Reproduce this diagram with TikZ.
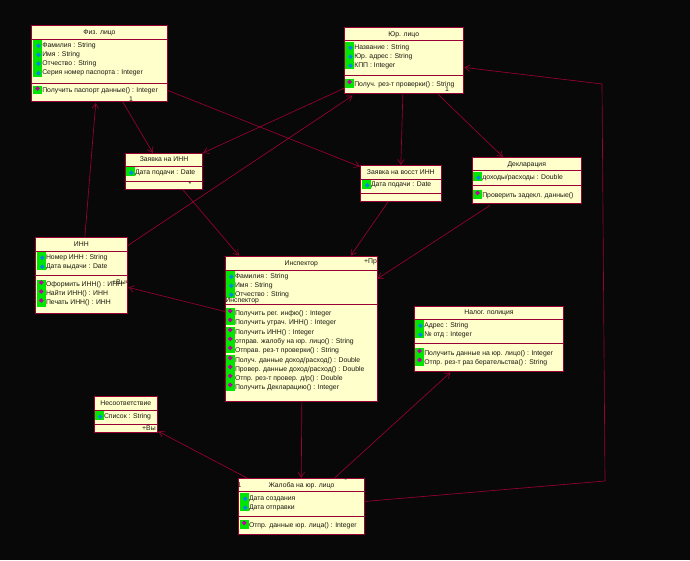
\documentclass[tikz,border=0pt]{standalone}
\usepackage{fontspec}
\setmainfont{Liberation Sans}
\usetikzlibrary{arrows.meta}
\definecolor{umlred}{HTML}{990033}
\definecolor{umlfill}{HTML}{FFFFCC}
\definecolor{umlgreen}{HTML}{00E600}
\definecolor{umlblue}{HTML}{0088E0}
\definecolor{umlmag}{HTML}{C000A0}
\definecolor{umltext}{HTML}{181810}
\newcounter{rowc}
\tikzset{
  classbox/.style={draw=umlred,fill=umlfill,line width=0.9pt,inner sep=0pt,rectangle},
  divider/.style={draw=umlred,line width=0.9pt},
  umltxt/.style={inner sep=0pt,text=umltext,font=\fontsize{6.85}{7}\selectfont},
  rowlabel/.style={umltxt,anchor=base west},
  titlelabel/.style={umltxt,anchor=base},
  assoc/.style={draw=umlred,line width=0.65pt,-{Straight Barb[length=5pt,width=6.5pt,line width=0.6pt]}},
  greenbar/.style={fill=umlgreen,draw=none},
}
% name, x1,y1,x2,y2, divider1, divider2, title
\newcommand{\classbox}[8]{%
  \node[classbox,minimum width={(#4-#2)*1pt},minimum height={(#5-#3)*1pt}] (#1) at ({(#2+#4)/2},{(#3+#5)/2}) {};
  \draw[divider] (#2,#6) -- (#4,#6);
  \draw[divider] (#2,#7) -- (#4,#7);
  \node[titlelabel] (#1-title) at ({(#2+#4)/2},{(#3+#6)/2+2.3}) {#8};
}
% green bar x, y1, y2
\newcommand{\gbar}[3]{\fill[greenbar] (#1,#2) rectangle ({#1+8.8},#3);}
% attribute row: icon x, y, text
\newcommand{\attr}[3]{%
  \fill[umlblue] ({#1+5.2},{#2-1.4}) -- ({#1+7.6},{#2+1}) -- ({#1+5.2},{#2+3.4}) -- ({#1+2.8},{#2+1}) -- cycle;
  \stepcounter{rowc}\node[rowlabel] (row\therowc) at ({#1+8.8},{#2+2.3}) {#3};
}
% operation row: icon x, y, text
\newcommand{\oper}[3]{%
  \fill[umlmag] ({#1+4.2},{#2-4.2}) -- ({#1+6.7},{#2-1.8}) -- ({#1+4.2},{#2+0.6}) -- ({#1+1.8},{#2-1.8}) -- cycle;
  \stepcounter{rowc}\node[rowlabel] (row\therowc) at ({#1+8.8},{#2+2.3}) {#3};
}
\begin{document}
\begin{tikzpicture}[x=1pt,y=-1pt]
\useasboundingbox (0,0) rectangle (690,560);
\fill[black!97] (0,0) rectangle (690,560);

% Физ. лицо
\classbox{fiz}{31.7}{25.3}{167.3}{101.5}{39.3}{83.3}{Физ. лицо}
\gbar{33.3}{40}{67.7}\gbar{33.3}{68.3}{77}\gbar{33.3}{86}{94.3}
\attr{33.3}{44.7}{Фамилия : String}
\attr{33.3}{53.7}{Имя : String}
\attr{33.3}{62.7}{Отчество : String}
\attr{33.3}{72.3}{Серия номер паспорта : Integer}
\oper{33.3}{90.3}{Получить паспорт данные() : Integer}

% Заявка на ИНН
\classbox{zinn}{125.3}{153.3}{202.7}{189.3}{166}{181.3}{Заявка на ИНН}
\gbar{126}{166.7}{176.3}
\attr{126}{171.7}{Дата подачи : Date}

% Юр. лицо
\classbox{yur}{344.3}{27.7}{463.3}{93.7}{40.3}{75.3}{Юр. лицо}
\gbar{345.3}{42}{69}\gbar{345.3}{79}{87.7}
\attr{345.3}{46.7}{Название : String}
\attr{345.3}{55.7}{Юр. адрес : String}
\attr{345.3}{64.7}{КПП : Integer}
\oper{345.3}{83.7}{Получ. рез-т проверки() : String}

% Заявка на восст ИНН
\classbox{zvos}{360.3}{165.3}{441.3}{201.7}{179.3}{193.3}{Заявка на  восст ИНН}
\gbar{362}{180}{189}
\attr{362}{184.3}{Дата подачи : Date}

% Декларация
\classbox{decl}{472.3}{157.3}{581.3}{203.7}{170.3}{185.7}{Декларация}
\gbar{473.3}{172}{181}\gbar{473.3}{190}{199}
\attr{473.3}{176.7}{доходы/расходы : Double}
\oper{473.3}{194.7}{Проверить задекл. данные()}

% ИНН
\classbox{inn}{35.3}{237.3}{127.3}{313.3}{251.7}{275.3}{ИНН}
\gbar{37}{252.3}{270}\gbar{37}{280}{306.7}
\attr{37}{256.7}{Номер ИНН : String}
\attr{37}{265.7}{Дата выдачи : Date}
\oper{37}{284.3}{Оформить ИНН() : ИНН}
\oper{37}{293.3}{Найти ИНН() : ИНН}
\oper{37}{302.3}{Печать ИНН() : ИНН}
\node[rowlabel] (innrole) at (112,284) {+Выч};

% Инспектор
\classbox{insp}{225.3}{256}{377.3}{401}{270}{304.3}{Инспектор}
\gbar{226}{270.7}{298}\gbar{226}{308}{325}\gbar{226}{327.3}{353.3}\gbar{226}{355}{390.7}
\attr{226}{275.7}{Фамилия : String}
\attr{226}{284.7}{Имя : String}
\attr{226}{293.7}{Отчество : String}
\oper{226}{312.7}{Получить рег. инфю() : Integer}
\oper{226}{321.7}{Получить утрач. ИНН() : Integer}
\oper{226}{331.7}{Получить ИНН() : Integer}
\oper{226}{340.7}{отправ. жалобу на юр. лицо() : String}
\oper{226}{349.7}{Отправ. рез-т проверки() : String}
\oper{226}{359.7}{Получ. данные доход/расход() : Double}
\oper{226}{368.7}{Провер. данные доход/расход() : Double}
\oper{226}{377.7}{Отпр. рез-т провер. д/р() : Double}
\oper{226}{386.7}{Получить Декларацию() : Integer}
\node[rowlabel] (insprole) at (225.3,302) {Инспектор};
\node[rowlabel] (insppr) at (364,263.5) {+Пр};

% Налог. полиция
\classbox{nal}{414.3}{306.3}{563.7}{371.3}{319}{343.3}{Налог. полиция}
\gbar{415.3}{320}{337.7}\gbar{415.3}{348.3}{365.7}
\attr{415.3}{324.7}{Адрес : String}
\attr{415.3}{333.7}{№ отд : Integer}
\oper{415.3}{352.7}{Получить данные на юр. лицо() : Integer}
\oper{415.3}{361.7}{Отпр. рез-т раз берательства() : String}

% Несоответствие
\classbox{nes}{94.3}{396.3}{157.3}{432.3}{410}{424.3}{Несоответствие}
\gbar{95}{411}{420}
\attr{95}{415.7}{Список : String}
\node[rowlabel] (nesrole) at (142,430.5) {+Вы};

% Жалоба на юр. лицо
\classbox{zhal}{238.7}{478.3}{364.3}{534.3}{491.3}{516.3}{Жалоба на юр. лицо}
\gbar{240}{493.3}{511.3}\gbar{240}{520}{529}
\attr{240}{497.7}{Дата создания}
\attr{240}{506.7}{Дата отправки}
\oper{240}{524.7}{Отпр. данные юр. лица() : Integer}

% multiplicities
\node[titlelabel] (m1) at (131,101) {1};
\node[titlelabel] (m2) at (190,186.5) {*};
\node[titlelabel] (m3) at (447,91) {1};
\node[titlelabel] (m4) at (239.5,487) {1};
\node[titlelabel] (m5) at (345.7,482) {*};

% connectors
\draw[assoc] ([xshift=50pt]inn.north west) -- ([xshift=64.5pt,yshift=-1pt]fiz.south west);
\draw[assoc] ([xshift=91.5pt]fiz.south west) -- ([xshift=28pt]zinn.north west);
\draw[assoc] ([yshift=11.5pt]fiz.south east) -- ([yshift=-1.7pt]zvos.north west);
\draw[assoc] ([yshift=5.7pt]yur.south west) -- (zinn.north east);
\draw[assoc] ([yshift=-8.7pt]inn.north east) -- ([xshift=8.7pt,yshift=-1.5pt]yur.south west);
\draw[assoc] ([xshift=59pt]yur.south west) -- ([xshift=41pt]zvos.north west);
\draw[assoc] ([xshift=94pt]yur.south west) -- ([xshift=31pt]decl.north west);
\draw[assoc] ([xshift=58pt]zinn.south west) -- ([xshift=14pt]insp.north west);
\draw[assoc] ([xshift=28pt]zvos.south west) -- ([xshift=126pt]insp.north west);
\draw[assoc] ([xshift=18pt,yshift=-1.3pt]decl.south west) -- ([yshift=-23pt]insp.north east);
\draw[assoc] ([yshift=90pt]insp.south west) -- ([yshift=26.3pt,xshift=0.7pt]inn.south east);
\draw[assoc] ([xshift=77pt]insp.south west) -- ([xshift=63pt]zhal.north west);
\draw[assoc] ([xshift=8.5pt]zhal.north west) -- ([xshift=0.7pt,yshift=1.3pt]nes.south east);
\draw[assoc] ([xshift=96.5pt]zhal.north west) -- ([xshift=36.5pt,yshift=-0.7pt]nal.south west);
\coordinate (bendA) at (605,481);
\coordinate (bendB) at (602,84);
\draw[assoc] ([yshift=33.3pt]zhal.south east) -- (bendA) -- (bendB) -- ([yshift=26.7pt,xshift=0.7pt]yur.south east);
\end{tikzpicture}
\end{document}
